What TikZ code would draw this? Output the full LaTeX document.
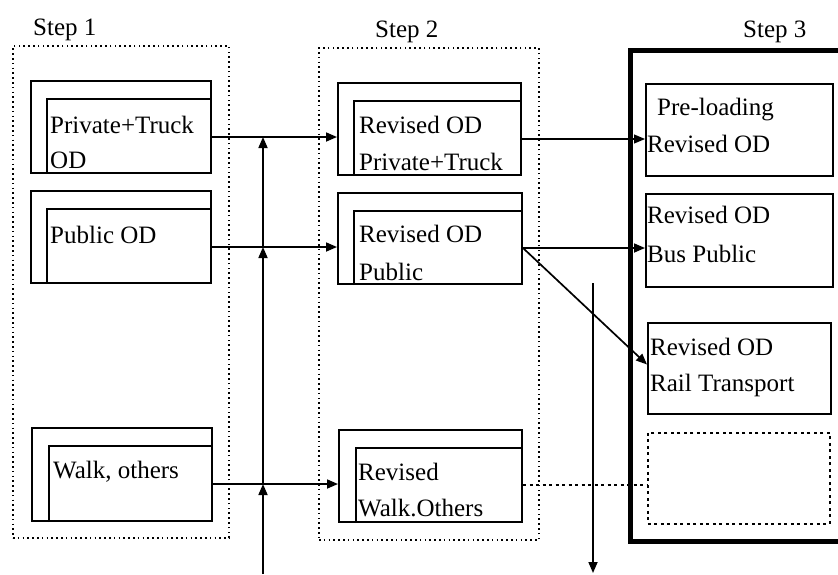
\documentclass[tikz,border=0pt]{standalone}
\usepackage{fontspec}
\setmainfont{Liberation Serif}
\usetikzlibrary{arrows.meta}
\begin{document}
\begin{tikzpicture}[x=1pt,y=-1pt,
  obox/.style={draw,line width=2pt,inner sep=0pt,anchor=north west},
  innerl/.style={line width=1.3pt},
  grp/.style={draw,line width=2pt,dash pattern=on 1.6pt off 3.2pt,inner sep=0pt,anchor=north west},
  thickgrp/.style={draw,line width=4.5pt,inner sep=0pt,anchor=north west},
  lbl/.style={anchor=base west,inner sep=0pt,font=\fontsize{25}{30}\selectfont},
  arr/.style={line width=1.7pt,-{Triangle[length=11pt,width=9pt]}},
  thinarr/.style={line width=1.1pt,-{Triangle[length=11pt,width=9pt]}},
  dotline/.style={line width=1.6pt,dash pattern=on 3pt off 3.5pt}]
\useasboundingbox (0,0) rectangle (838,574);
% group frames
\node[grp,minimum width=216pt,minimum height=492pt] (s1) at (12,45) {};
\node[grp,minimum width=220pt,minimum height=492pt] (s2) at (318,47) {};
\node[thickgrp,minimum width=240pt,minimum height=491pt] (s3) at (628,48) {};
% step labels
\node[lbl] (t1) at (33,35) {Step 1};
\node[lbl] (t2) at (375,37) {Step 2};
\node[lbl] (t3) at (743,37) {Step 3};
% step 1 boxes
\node[obox,minimum width=180pt,minimum height=92pt] (a1) at (30,80) {};
\node[obox,minimum width=180pt,minimum height=92pt] (a2) at (30,190) {};
\node[obox,minimum width=180pt,minimum height=93pt] (a3) at (31,427) {};
\draw[innerl] ([xshift=17pt]a1.south west) |- ([yshift=-19pt]a1.north east);
\draw[innerl] ([xshift=17pt]a2.south west) |- ([yshift=-19pt]a2.north east);
\draw[innerl] ([xshift=18pt]a3.south west) |- ([yshift=-19pt]a3.north east);
\node[lbl] at (50,133) {Private+Truck};
\node[lbl] at (50,168) {OD};
\node[lbl] at (50,243) {Public OD};
\node[lbl] at (53,478) {Walk, others};
% step 2 boxes
\node[obox,minimum width=183pt,minimum height=92pt] (b1) at (337,82) {};
\node[obox,minimum width=184pt,minimum height=91pt] (b2) at (337,192) {};
\node[obox,minimum width=183pt,minimum height=92pt] (b3) at (338,429) {};
\draw[innerl] ([xshift=17pt]b1.south west) |- ([yshift=-19pt]b1.north east);
\draw[innerl] ([xshift=17pt]b2.south west) |- ([yshift=-19pt]b2.north east);
\draw[innerl] ([xshift=18pt]b3.south west) |- ([yshift=-19pt]b3.north east);
\node[lbl] at (359,133) {Revised OD};
\node[lbl] at (359,170) {Private+Truck};
\node[lbl] at (359,242) {Revised OD};
\node[lbl] at (359,280) {Public};
\node[lbl] at (358,480) {Revised};
\node[lbl] at (358,516) {Walk.Others};
% step 3 boxes
\node[obox,minimum width=187pt,minimum height=92pt] (c1) at (645,83) {};
\node[obox,minimum width=187pt,minimum height=93pt] (c2) at (645,193) {};
\node[obox,minimum width=183pt,minimum height=91pt] (c3) at (647,322) {};
\node[obox,dash pattern=on 3pt off 3.5pt,line width=1.6pt,minimum width=182pt,minimum height=91pt] (c4) at (647,432) {};
\node[lbl] at (657,115) {Pre-loading};
\node[lbl] at (647,152) {Revised OD};
\node[lbl] at (647,223) {Revised OD};
\node[lbl] at (647,262) {Bus Public};
\node[lbl] at (650,355) {Revised OD};
\node[lbl] at (650,391) {Rail Transport};
% junction coordinates
\coordinate (r1) at (0,137);
\coordinate (r2) at (0,247);
\coordinate (r3) at (0,484);
\coordinate (vb) at (263,574);
\coordinate (j1) at (263,137);
\coordinate (j2) at (263,247);
\coordinate (j3) at (263,484);
% step 1 -> step 2
\draw[arr] (a1.east |- r1) -- (b1.west |- r1);
\draw[arr] (a2.east |- r2) -- (b2.west |- r2);
\draw[arr] (a3.east |- r3) -- (b3.west |- r3);
% upward line
\draw[arr] (vb) -- (j3);
\draw[arr] (j3) -- (j2);
\draw[arr] (j2) -- (j1);
% step 2 -> step 3
\coordinate (q1) at (0,139);
\coordinate (q2) at (0,248);
\coordinate (q4) at (0,485);
\draw[thinarr] (b1.east |- q1) -- (c1.west |- q1);
\draw[arr] (b2.east |- q2) -- (c2.west |- q2);
\draw[arr] (b2.east |- q2) -- ([yshift=4pt]c3.west);
\draw[dotline] (b3.east |- q4) -- (c4.west |- q4);
% downward arrow
\coordinate (d1) at (593,283);
\coordinate (d2) at (593,573);
\draw[arr] (d1) -- (d2);
\end{tikzpicture}
\end{document}
